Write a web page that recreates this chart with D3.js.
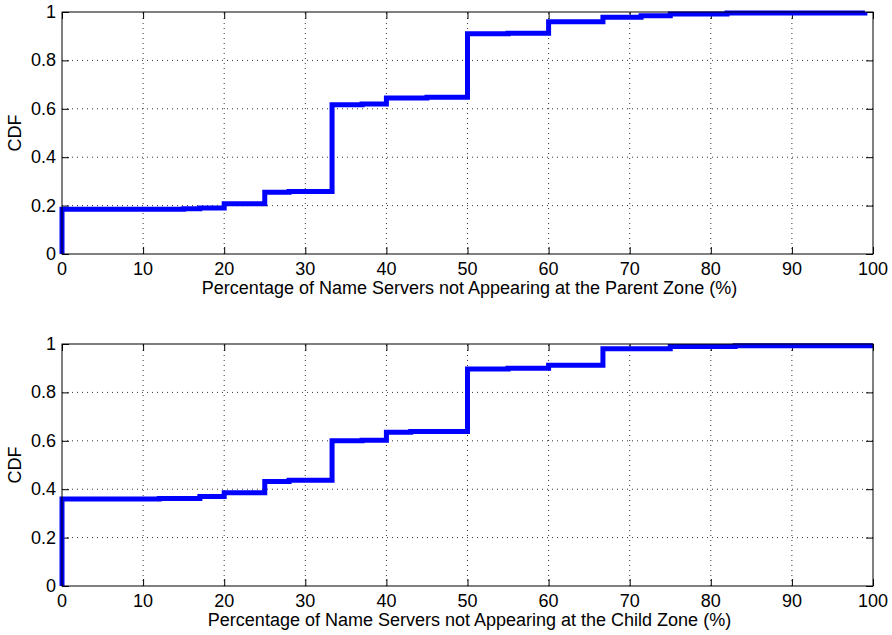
<!DOCTYPE html>
<html>
<head>
<meta charset="utf-8">
<script src="https://cdn.jsdelivr.net/npm/d3@7.9.0/dist/d3.min.js"></script>
<style>
  body { margin: 0; background: #fff; }
  svg text { font-family: "Liberation Sans", Arial, Helvetica, sans-serif; fill: #000; }
</style>
</head>
<body>
<svg id="chart" width="892" height="635"></svg>
<script>
// step CDF points: [x, cdf] — value holds from x until the next point
const parentSteps = [
  [0, 0], [0, 0.185], [15, 0.187], [17, 0.19], [20, 0.208], [25, 0.255], [28, 0.258],
  [33.3, 0.617], [37, 0.62], [40, 0.645], [45, 0.648], [50, 0.91], [55, 0.912],
  [60, 0.96], [66.7, 0.978], [71.4, 0.985], [75, 0.992], [82, 0.996], [99, 1.0]
];
const childSteps = [
  [0, 0], [0, 0.36], [12, 0.362], [17, 0.37], [20, 0.385], [25, 0.432], [28, 0.437],
  [33.3, 0.6], [37, 0.602], [40, 0.635], [43, 0.638], [50, 0.897], [55, 0.9],
  [60, 0.912], [66.7, 0.98], [75, 0.99], [83, 0.993], [100, 0.993]
];
const xTicks = [0, 10, 20, 30, 40, 50, 60, 70, 80, 90, 100];
const yTicks = [0, 0.2, 0.4, 0.6, 0.8, 1];
const panels = [
  { steps: parentSteps, label: 'Percentage of Name Servers not Appearing at the Parent Zone (%)', top: 12 },
  { steps: childSteps,  label: 'Percentage of Name Servers not Appearing at the Child Zone (%)',  top: 344 }
];

const svg = d3.select('#chart');
const left = 62, right = 873, plotH = 242;
const fs = 18;

panels.forEach(p => {
  const x = d3.scaleLinear().domain([0, 100]).range([left, right]);
  const y = d3.scaleLinear().domain([0, 1]).range([p.top + plotH, p.top]);
  const g = svg.append('g');

  // dotted grid
  g.selectAll('.vg').data(xTicks.slice(1, -1)).join('line')
    .attr('x1', d => x(d)).attr('x2', d => x(d))
    .attr('y1', y(0)).attr('y2', y(1))
    .attr('stroke', '#333').attr('stroke-width', 1).attr('stroke-dasharray', '1,4');
  g.selectAll('.hg').data(yTicks.slice(1, -1)).join('line')
    .attr('x1', x(0)).attr('x2', x(100))
    .attr('y1', d => y(d)).attr('y2', d => y(d))
    .attr('stroke', '#333').attr('stroke-width', 1).attr('stroke-dasharray', '1,4');

  // inward ticks on all sides
  const tl = 7;
  g.append('g').attr('transform', `translate(0,${y(0)})`)
    .call(d3.axisTop(x).tickValues(xTicks).tickSize(tl).tickFormat(''))
    .call(a => a.select('.domain').remove());
  g.append('g').attr('transform', `translate(0,${y(1)})`)
    .call(d3.axisBottom(x).tickValues(xTicks).tickSize(tl).tickFormat(''))
    .call(a => a.select('.domain').remove());
  g.append('g').attr('transform', `translate(${x(0)},0)`)
    .call(d3.axisRight(y).tickValues(yTicks).tickSize(tl).tickFormat(''))
    .call(a => a.select('.domain').remove());
  g.append('g').attr('transform', `translate(${x(100)},0)`)
    .call(d3.axisLeft(y).tickValues(yTicks).tickSize(tl).tickFormat(''))
    .call(a => a.select('.domain').remove());

  // tick labels
  g.selectAll('.xl').data(xTicks).join('text')
    .attr('x', d => x(d)).attr('y', y(0) + 21)
    .attr('text-anchor', 'middle').attr('font-size', fs)
    .text(d => d);
  g.selectAll('.yl').data(yTicks).join('text')
    .attr('x', x(0) - 6).attr('y', d => y(d) + 6)
    .attr('text-anchor', 'end').attr('font-size', fs)
    .text(d => d);

  // the CDF line
  const line = d3.line().curve(d3.curveStepAfter)
    .x(d => x(d[0])).y(d => y(d[1]));
  g.append('path').datum(p.steps)
    .attr('d', line)
    .attr('fill', 'none').attr('stroke', '#0000ff')
    .attr('stroke-width', 5).attr('stroke-linejoin', 'miter');

  // frame
  g.append('rect')
    .attr('x', x(0)).attr('y', y(1))
    .attr('width', x(100) - x(0)).attr('height', y(0) - y(1))
    .attr('fill', 'none').attr('stroke', '#000').attr('stroke-width', 1);

  // axis titles
  g.append('text')
    .attr('x', (left + right) / 2 + 2).attr('y', y(0) + 40)
    .attr('text-anchor', 'middle').attr('font-size', fs)
    .text(p.label);
  g.append('text')
    .attr('transform', `translate(21,${(y(0) + y(1)) / 2}) rotate(-90)`)
    .attr('text-anchor', 'middle').attr('font-size', fs)
    .text('CDF');
});
</script>
</body>
</html>
